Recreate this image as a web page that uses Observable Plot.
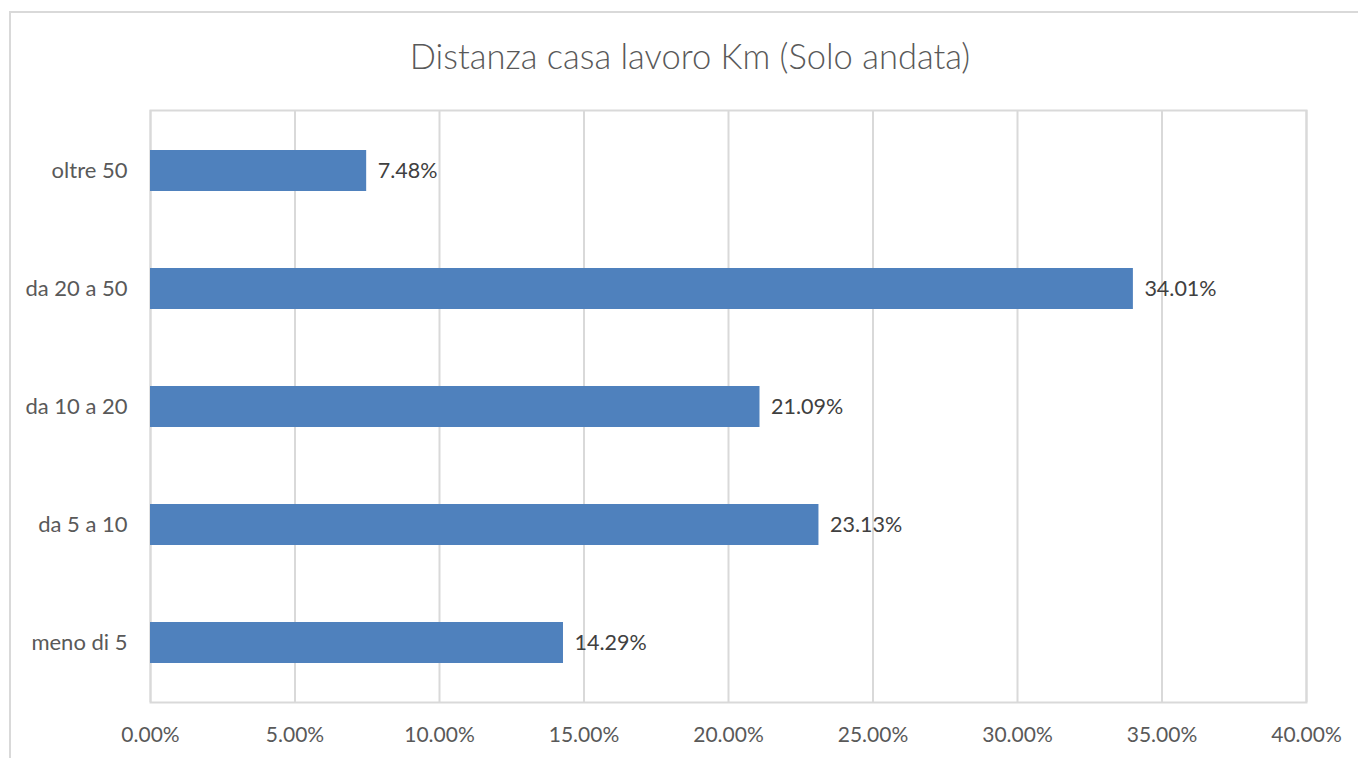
<!DOCTYPE html>
<html>
<head>
<meta charset="utf-8">
<script src="https://cdn.jsdelivr.net/npm/d3@7"></script>
<script src="https://cdn.jsdelivr.net/npm/@observablehq/plot@0.6"></script>
<style>
  html, body { margin: 0; padding: 0; background: #fff; }
  #wrap { position: relative; width: 1358px; height: 758px; overflow: hidden; }
  #border { position: absolute; left: 9px; top: 11px; width: 1400px; height: 800px; border: 2px solid #d9d9d9; box-sizing: border-box; }
  #title { position: absolute; left: 0; top: 0; width: 1380px; height: 100px; text-align: center; line-height: 112px;
           font-family: Lato, "Open Sans", sans-serif; font-size: 34.5px; font-weight: 300; color: #595959; }
  #chart { position: absolute; left: 0; top: 100px; }
</style>
</head>
<body>
<div id="wrap">
  <div id="border"></div>
  <div id="title">Distanza casa lavoro Km (Solo andata)</div>
  <div id="chart"></div>
</div>
<script>
const categories = ["oltre 50", "da 20 a 50", "da 10 a 20", "da 5 a 10", "meno di 5"];
const values = [0.0748, 0.3401, 0.2109, 0.2313, 0.1429];
const xTicks = [0, 0.05, 0.10, 0.15, 0.20, 0.25, 0.30, 0.35, 0.40];

const data = categories.map((c, i) => ({category: c, value: values[i]}));
const fmt = d3.format(".2%");
const font = "Lato, 'Open Sans', sans-serif";

const chart = Plot.plot({
  width: 1358,
  height: 658,
  marginTop: 10,
  marginBottom: 56,
  marginLeft: 150,
  marginRight: 52,
  style: {fontFamily: font, fontSize: "21px", color: "#595959", background: "transparent"},
  x: {domain: [0, 0.40]},
  y: {domain: categories, paddingInner: 0.654, paddingOuter: 0.327},
  marks: [
    Plot.ruleX(xTicks, {stroke: "#d9d9d9", strokeWidth: 2}),
    Plot.frame({stroke: "#d9d9d9", strokeWidth: 2}),
    Plot.barX(data, {x: "value", y: "category", fill: "#4f81bd"}),
    Plot.text(data, {x: "value", y: "category", text: d => fmt(d.value), textAnchor: "start", dx: 11, fill: "#404040", fontSize: 21.5}),
    Plot.axisX(xTicks, {tickSize: 0, tickPadding: 25, tickFormat: fmt, fill: "#595959", fontSize: 21, label: null}),
    Plot.axisY(categories, {tickSize: 0, tickPadding: 23, fill: "#595959", fontSize: 22, label: null})
  ]
});
document.getElementById("chart").appendChild(chart);
</script>
</body>
</html>
